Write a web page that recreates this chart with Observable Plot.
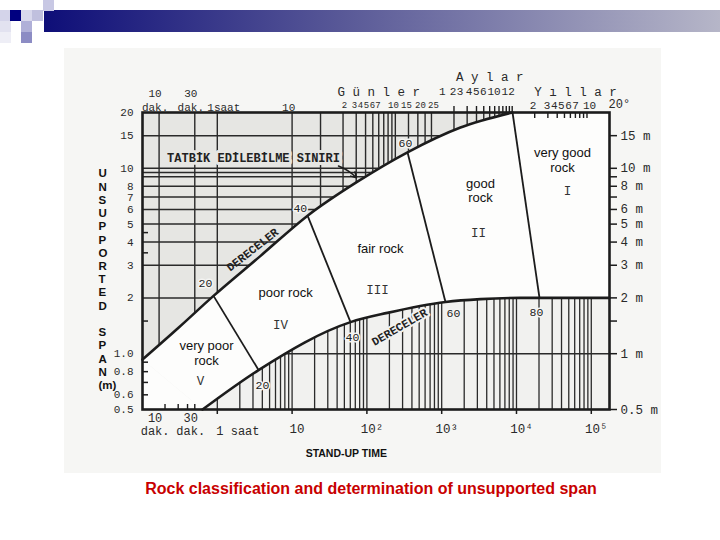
<!DOCTYPE html>
<html><head><meta charset="utf-8">
<script src="https://cdn.jsdelivr.net/npm/d3@7"></script>
<script src="https://cdn.jsdelivr.net/npm/@observablehq/plot@0.6"></script>
<style>
body{margin:0;background:#fff;width:720px;height:540px;position:relative;overflow:hidden}
#scan{position:absolute;left:64px;top:48px;width:597px;height:425px;background:#f6f6f4}
#chart{position:absolute;left:0;top:0}
#bar{position:absolute;left:44px;top:10px;width:676px;height:22px;background:linear-gradient(to right,#0e0e78,#5a5a98 45%,#b6b6c8)}
.sq{position:absolute;width:11px;height:11px}
#caption{position:absolute;left:0;width:742px;top:480px;text-align:center;color:#c80000;font:bold 16px "Liberation Sans",Arial,sans-serif}
</style></head>
<body>
<div id="scan"></div>
<div id="bar"></div>
<div class="sq" style="left:0;top:10px;background:#d4d4ea"></div>
<div class="sq" style="left:0;top:21px;background:#e2e2f0"></div>
<div class="sq" style="left:0;top:32px;background:#eeeef6"></div>
<div class="sq" style="left:10px;top:10px;background:#000080"></div>
<div class="sq" style="left:21px;top:10px;background:#d8d8ec"></div>
<div class="sq" style="left:32px;top:10px;background:#c0c0de"></div>
<div class="sq" style="left:43px;top:0;background:#c8c8e4"></div>
<div class="sq" style="left:21px;top:21px;background:#b0b0d8"></div>
<div class="sq" style="left:21px;top:32px;background:#8c8cc4"></div>
<div id="chart"></div>
<div id="caption">Rock classification and determination of unsupported span</div>
<script>
// ---- data (x: stand-up time in hours, y: unsupported span in m) ----
// upper limit curve ("TATBİK EDİLEBİLME SINIRI")
const upperT = [0.1, 0.303, 0.89, 3.79, 16.1, 74.8, 349, 1782, 8850];
const upperS = [0.93, 1.38, 2.05, 3.37, 5.55, 8.47, 12.2, 16.6, 20];
// lower limit curve
const lowerT = [0.634, 3.56, 60.4, 188, 1124, 3300, 11300, 20300, 175200];
const lowerS = [0.5, 0.816, 1.48, 1.66, 1.90, 1.97, 2.0, 2.0, 2.0];

// class boundaries: upper end -> lower end
const boundUpperT = [0.89, 16.1, 349, 8850];
const boundUpperS = [2.05, 5.55, 12.2, 20];
const boundLowerT = [3.56, 60.4, 1124, 20300];
const boundLowerS = [0.816, 1.48, 1.90, 2.0];

const rmrUpper = ["20", "40", "60"];
const rmrUpperT = [0.695, 12.9, 328];
const rmrUpperS = [2.41, 6.05, 13.6];
const rmrLower = ["20", "40", "60", "80"];
const rmrLowerT = [4.02, 64.2, 1439, 18500];
const rmrLowerS = [0.678, 1.22, 1.66, 1.68];

const classNames = ["very good\nrock", "good\nrock", "fair rock", "poor rock", "very poor\nrock"];
const classNameT = [41200, 3300, 152, 8.17, 0.718];
const classNameS = [11.1, 7.57, 3.68, 2.13, 1.01];
const classNums = ["I", "II", "III", "IV", "V"];
const classNumT = [48100, 3100, 139, 7.0, 0.595];
const classNumS = [7.57, 4.49, 2.21, 1.43, 0.711];

const limitText = "TATBİK EDİLEBİLME SINIRI";
const limitT = [3.05], limitS = [11.3];
const arrowT1 = [41.7], arrowS1 = [10.3], arrowT2 = [72.6], arrowS2 = [8.9];
const ratingWord = "DERECELER";
const ratingT = [2.96, 273], ratingS = [3.64, 1.39], ratingRot = [-38, -30];

// ticks and grid
const HOURS_PER_DAY = 24, HOURS_PER_MONTH = 730, HOURS_PER_YEAR = 8760;
const minuteGrid = [10, 30];
const hourGrid = [1, 10];
const dayGrid = [1, 2, 3, 4, 5, 6, 7, 8, 9, 10, 15, 20, 25];
const monthGrid = [1, 2, 3, 4, 5, 6, 7, 8, 9, 10, 11, 12];
const yearTicks = [2, 3, 4, 5, 6, 7, 8, 9, 10];
// top scale labels (text) and where they are printed (hours)
const dayLabels = ["2", "3", "4", "5", "6", "7", "10", "15", "20", "25"];
const dayLabelAt = [50.2, 68.3, 82.1, 98.8, 118.8, 140.6, 226.8, 338, 521, 777];
const monthLabels = ["1", "2", "3", "4", "5", "6", "10", "12"];
const monthLabelAt = [1016, 1416, 1763, 2323, 2893, 3612, 5003, 7745];
const yearLabels = ["2", "3", "4", "5", "6", "7", "10"];
const yearLabelAt = [16620, 25650, 31920, 39720, 49550, 61480, 94600];
const spanGrid = [15, 10, 9.5, 9, 8, 7, 6, 5, 4, 3, 2];
const leftTicks = [20, 15, 10, 8, 7, 6, 5, 4, 3, 2, 1, 0.8, 0.6, 0.5];
const leftMinor = [4.5, 3.5, 1.5, 0.9, 0.8, 0.7, 0.6];
const bottomMinor = [0.2, 0.3, 0.4, 0.5];
const rightTicks = [15, 10, 8, 6, 5, 4, 3, 2, 1, 0.5];
const rightMinor = [9, 7, 1.5];
const minuteLabelTop = ["10", "30"];
const minuteLabelUnit = "dak.";
const hourLabelTop = ["1saat", "10"];
const hourLabelBottom = ["1 saat"];
const powerTicks = [10, 100, 1000, 10000, 100000];
const powerLabels = ["10", "10²", "10³", "10⁴", "10⁵"];
const wordDays = "G ü n l e r", wordMonths = "A y l a r", wordYears = "Y ı l l a r";
const lowerGridT = [1, 10, 100, 1000, 10000].flatMap(p => [1, 2, 3, 4, 5, 6, 7, 8, 9].map(k => k * p)).concat([100000]);

const xDom = [0.1, 175200], yDom = [0.5, 20];
const W = 720, H = 470, mL = 142, mR = 111, mT = 112, mB = 61;
const frameW = W - mL - mR, frameH = H - mT - mB;
const mono = "'Liberation Mono','DejaVu Sans Mono',monospace";
const sans = "'Liberation Sans',Arial,sans-serif";
const ink = "#1c1c1c", grid = "#2a2a2a", txt = "#2a2a2a";
const bgUpper = "#e6e6e3", bgLower = "#f1f1ef", bgClass = "#fdfdfc";

const upperPts = upperT.map((t, i) => ({t, s: upperS[i]}));
const lowerPts = lowerT.map((t, i) => ({t, s: lowerS[i]}));
const classBand = upperT.map((t, i) => ({ut: t, us: upperS[i], lt: lowerT[i], ls: lowerS[i]}));
const cornerPts = [upperPts[0], lowerPts[0]];
const last = a => a[a.length - 1];
const bounds = boundUpperT.map((t, i) => ({t1: t, s1: boundUpperS[i], t2: boundLowerT[i], s2: boundLowerS[i]}));
const upperGridT = [...minuteGrid.map(m => m / 60), ...hourGrid, ...dayGrid.map(d => d * HOURS_PER_DAY), ...monthGrid.map(m => m * HOURS_PER_MONTH)];
const minuteT = minuteGrid.map(m => m / 60);

const chart = Plot.plot({
  width: W, height: H,
  marginLeft: mL, marginRight: mR, marginTop: mT, marginBottom: mB,
  x: {type: "log", domain: xDom},
  y: {type: "log", domain: yDom},
  style: {fontFamily: mono, fontSize: "12px", color: ink, background: "transparent", overflow: "visible"},
  marks: [
    Plot.frame({fill: bgUpper, stroke: "none"}),
    Plot.ruleX(upperGridT, {stroke: grid, strokeWidth: 1.4}),
    Plot.ruleY(spanGrid, {stroke: grid, strokeWidth: 1.5}),
    // everything under the upper curve
    Plot.areaY(upperPts, {x: "t", y1: yDom[0], y2: "s", curve: "monotone-x", fill: bgLower}),
    Plot.rect([0], {x1: last(upperT), x2: xDom[1], y1: yDom[0], y2: yDom[1], fill: bgLower}),
    // lower grid
    Plot.ruleX(lowerGridT, {y1: yDom[0], y2: d3.max(lowerS), stroke: grid, strokeWidth: 1.3}),
    Plot.ruleY([1], {x1: hourGrid[0], x2: xDom[1], stroke: grid, strokeWidth: 1.5}),
    // class region between the curves
    Plot.area(classBand, {x1: "ut", y1: "us", x2: "lt", y2: "ls", curve: "monotone-x", fill: bgClass}),
    Plot.areaY(cornerPts, {x: "t", y1: yDom[0], y2: "s", fill: bgClass}),
    Plot.rect([0], {x1: last(upperT), x2: xDom[1], y1: last(lowerS), y2: yDom[1], fill: bgClass}),
    Plot.line(upperPts, {x: "t", y: "s", curve: "monotone-x", stroke: ink, strokeWidth: 2.6}),
    Plot.line(lowerPts, {x: "t", y: "s", curve: "monotone-x", stroke: ink, strokeWidth: 2.6}),
    Plot.link(bounds, {x1: "t1", y1: "s1", x2: "t2", y2: "s2", stroke: ink, strokeWidth: 1.8}),
    Plot.frame({stroke: ink, strokeWidth: 2.6}),
    // tick marks
    Plot.axisX({anchor: "top", ticks: monthGrid.slice(1).map(m => m * HOURS_PER_MONTH), tickSize: 7, tickFormat: () => "", strokeWidth: 1.4, label: null}),
    Plot.ruleX(yearTicks.map(y => y * HOURS_PER_YEAR), {insetBottom: frameH - 6, stroke: ink, strokeWidth: 1.4}),
    Plot.ruleX(bottomMinor, {insetTop: frameH - 5, stroke: ink, strokeWidth: 1.4}),
    Plot.ruleY(leftMinor, {insetRight: frameW - 6, stroke: ink, strokeWidth: 1.5}),
    Plot.axisY({anchor: "right", ticks: [...rightTicks, ...rightMinor], tickSize: 7, tickFormat: () => "", strokeWidth: 1.5, label: null}),
    Plot.axisX({anchor: "bottom", ticks: [...hourGrid, ...powerTicks.slice(1)], tickSize: 5, tickFormat: () => "", strokeWidth: 1.5, label: null}),
    // left / right tick labels
    Plot.text(leftTicks, {y: d => d, frameAnchor: "left", dx: -9, textAnchor: "end", text: d => d >= 2 ? String(d) : d.toFixed(1), fontSize: 11, fill: txt}),
    Plot.text(rightTicks, {y: d => d, frameAnchor: "right", dx: 11, textAnchor: "start", text: d => d + " m", fontSize: 12.5, fill: txt}),
    // bottom tick labels
    Plot.text(minuteT, {x: d => d, frameAnchor: "bottom", dy: 12, dx: -4, text: (d, i) => minuteLabelTop[i], fontSize: 12, fill: txt}),
    Plot.text(minuteT, {x: d => d, frameAnchor: "bottom", dy: 25, dx: -4, text: () => minuteLabelUnit, fontSize: 12, fill: txt}),
    Plot.text([hourGrid[0]], {x: d => d, frameAnchor: "bottom", dy: 25, dx: -1, textAnchor: "start", text: (d, i) => hourLabelBottom[i], fontSize: 12, fill: txt}),
    Plot.text(powerTicks, {x: d => d, frameAnchor: "bottom", dy: 23, dx: 5, text: (d, i) => powerLabels[i], fontSize: 12.5, fill: txt}),
    // top labels
    Plot.text(minuteT, {x: d => d, frameAnchor: "top", dy: -23, dx: -4, text: (d, i) => minuteLabelTop[i], fontSize: 11, fill: txt}),
    Plot.text(minuteT, {x: d => d, frameAnchor: "top", dy: -9, dx: -4, text: () => minuteLabelUnit, fontSize: 11, fill: txt}),
    Plot.text(hourGrid, {x: d => d, frameAnchor: "top", dy: -9, dx: -10, textAnchor: "start", text: (d, i) => hourLabelTop[i], fontSize: 11, fill: txt}),
    Plot.text(dayLabels, {x: dayLabelAt, frameAnchor: "top", dy: -11, text: d => d, fontSize: 9, fill: txt}),
    Plot.text(monthLabels, {x: monthLabelAt, frameAnchor: "top", dy: -25, text: d => d, fontSize: 11, fill: txt}),
    Plot.text(yearLabels, {x: yearLabelAt, frameAnchor: "top", dy: -11, text: d => d, fontSize: 11, fill: txt}),
    Plot.text([20], {x: d => d * HOURS_PER_YEAR, frameAnchor: "top", dy: -13, dx: -1, textAnchor: "start", text: d => d + "°", fontSize: 12, fill: txt}),
    Plot.text([6], {x: d => d * HOURS_PER_DAY, frameAnchor: "top", dy: -25, text: () => wordDays, fontSize: 12.5, fill: txt}),
    Plot.text([6], {x: d => d * HOURS_PER_MONTH, frameAnchor: "top", dy: -40, text: () => wordMonths, fontSize: 12.5, fill: txt}),
    Plot.text([7], {x: d => d * HOURS_PER_YEAR, frameAnchor: "top", dy: -25, text: () => wordYears, fontSize: 12.5, fill: txt}),
    // annotations
    Plot.text([limitText], {x: limitT, y: limitS, text: d => d, fontWeight: "bold", fontSize: 12, fill: "#222", stroke: bgUpper, strokeWidth: 6}),
    Plot.arrow([0], {x1: arrowT1, y1: arrowS1, x2: arrowT2, y2: arrowS2, bend: 12, headLength: 6, stroke: ink, strokeWidth: 1.5}),
    Plot.text([ratingWord], {x: [ratingT[0]], y: [ratingS[0]], text: d => d, rotate: ratingRot[0], fontWeight: "bold", fontSize: 11.5, fill: "#222"}),
    Plot.text([ratingWord], {x: [ratingT[1]], y: [ratingS[1]], text: d => d, rotate: ratingRot[1], fontWeight: "bold", fontSize: 11.5, fill: "#222", stroke: bgLower, strokeWidth: 4}),
    Plot.text(rmrUpper, {x: rmrUpperT, y: rmrUpperS, text: d => d, fontSize: 11.5, fill: "#222", stroke: "#f4f4f2", strokeWidth: 3}),
    Plot.text(rmrLower, {x: rmrLowerT, y: rmrLowerS, text: d => d, fontSize: 11.5, fill: "#222", stroke: "#f4f4f2", strokeWidth: 3}),
    Plot.text(classNames, {x: classNameT, y: classNameS, text: d => d, fontFamily: sans, fontSize: 13, lineHeight: 1.1, fill: "#111"}),
    Plot.text(classNums, {x: classNumT, y: classNumS, text: d => d, fontSize: 12.5, fill: "#333"}),
    // axis titles
    Plot.text(["U\nN\nS\nU\nP\nP\nO\nR\nT\nE\nD\n\nS\nP\nA\nN\n(m)"], {frameAnchor: "left", dx: -44, dy: 18, text: d => d, lineHeight: 1.15, fontFamily: sans, fontWeight: "bold", fontSize: 11.5, fill: "#111"}),
    Plot.text(["STAND-UP TIME"], {x: [53], frameAnchor: "bottom", dy: 47, text: d => d, fontFamily: sans, fontWeight: "bold", fontSize: 10.5, fill: "#111"})
  ]
});
document.getElementById("chart").appendChild(chart);
</script>
</body></html>
